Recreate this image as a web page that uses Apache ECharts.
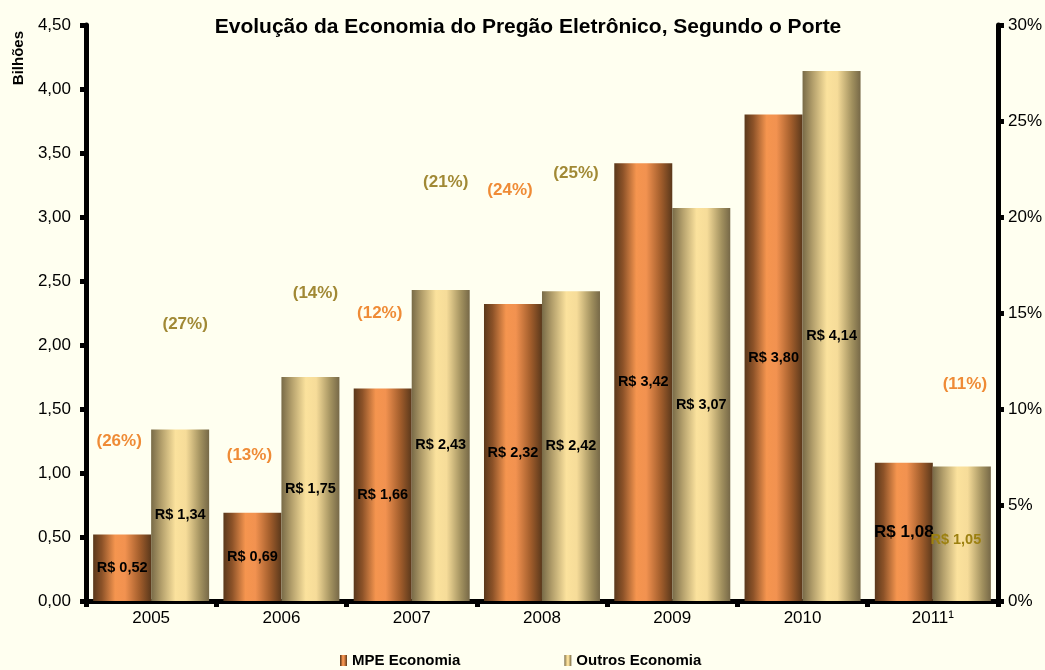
<!DOCTYPE html>
<html>
<head>
<meta charset="utf-8">
<script src="https://cdn.jsdelivr.net/npm/echarts@6/dist/echarts.min.js"></script>
<style>
  html, body { margin: 0; padding: 0; background: #fffff0; }
  #chart { width: 1045px; height: 670px; }
</style>
</head>
<body>
<div id="chart"></div>
<script>
// data
const years = ["2005", "2006", "2007", "2008", "2009", "2010", "2011\u00b9"];
const mpeValues = [0.52, 0.69, 1.66, 2.32, 3.42, 3.80, 1.08];
const outrosValues = [1.34, 1.75, 2.43, 2.42, 3.07, 4.14, 1.05];
// percentage notes (null = none shown)
const mpePct = [26, 13, 12, 24, null, null, 11];
const outrosPct = [27, 14, 21, 25, null, null, null];
// height where each note sits, in right-axis units
const mpePctAt = [8.3, 7.6, 15.0, 21.4, null, null, 11.3];
const outrosPctAt = [14.4, 16.0, 21.8, 22.3, null, null, null];

const leftTicks = [0, 4.5, 0.5];
const rightTicks = [0, 30, 5];

const chart = echarts.init(document.getElementById("chart"));

const mpeColor = new echarts.graphic.LinearGradient(0, 0, 1, 0, [
  { offset: 0, color: "#5a381b" },
  { offset: 0.15, color: "#8c5228" },
  { offset: 0.38, color: "#f5954f" },
  { offset: 0.55, color: "#f29250" },
  { offset: 0.8, color: "#a35e2c" },
  { offset: 1, color: "#5a381b" },
]);
const outrosColor = new echarts.graphic.LinearGradient(0, 0, 1, 0, [
  { offset: 0, color: "#786a47" },
  { offset: 0.18, color: "#b4a06c" },
  { offset: 0.42, color: "#fbe29d" },
  { offset: 0.6, color: "#f6dc99" },
  { offset: 0.85, color: "#a2915f" },
  { offset: 1, color: "#766847" },
]);

const fmtMoney = (v) => "R$ " + v.toFixed(2).replace(".", ",");

function pctData(pcts, pos) {
  return pcts.map((p, i) => (p == null ? [i, null, null] : [i, pos[i], p]));
}

const mpeBarData = mpeValues.map((v, i) => {
  if (i === 6) return { value: v, label: { fontSize: 17 } };
  return v;
});
const outrosBarData = outrosValues.map((v, i) => {
  if (i === 6) return { value: v, label: { color: "#9c8010", offset: [-6, 6] } };
  return v;
});

const pctLabel = (color, dx) => ({
  show: true,
  position: "inside",
  offset: [dx, 0],
  color: color,
  fontSize: 17,
  fontWeight: "bold",
  formatter: (p) => (p.value[2] == null ? "" : "(" + p.value[2] + "%)"),
});

const mpePctData = pctData(mpePct, mpePctAt).map((d, i) =>
  i === 6 ? { value: d, label: { offset: [32, 0] } } : d
);

const barLabel = {
  show: true,
  position: "inside",
  color: "#000",
  fontSize: 14.5,
  fontWeight: "bold",
  formatter: (p) => fmtMoney(p.value),
};

const option = {
  backgroundColor: "#fffff0",
  animation: false,
  textStyle: { fontFamily: "Liberation Sans, Arial, sans-serif" },
  title: {
    text: "Evolução da Economia do Pregão Eletrônico, Segundo o Porte",
    left: 523,
    top: 12,
    textAlign: "center",
    textStyle: { fontSize: 21, fontWeight: "bold", color: "#000", letterSpacing: -0.6 },
  },
  legend: {
    bottom: -3,
    left: 335,
    itemWidth: 7,
    itemHeight: 11,
    itemGap: 104,
    itemStyle: { borderWidth: 0 },
    icon: "rect",
    textStyle: { fontSize: 15, fontWeight: "bold", color: "#000", letterSpacing: 0.4 },
    data: ["MPE Economia", "Outros Economia"],
  },
  graphic: [
    {
      type: "text",
      left: 11,
      top: 31,
      rotation: Math.PI / 2,
      style: { text: "Bilhões", font: "bold 15px Liberation Sans, Arial", fill: "#000" },
    },
  ],
  grid: { left: 86, right: 43, top: 25, bottom: 69 },
  xAxis: {
    type: "category",
    data: years,
    axisLine: { lineStyle: { color: "#000", width: 5 } },
    axisTick: { show: true, alignWithLabel: false, length: 6, lineStyle: { color: "#000", width: 5 } },
    axisLabel: { color: "#000", fontSize: 17, margin: 9 },
  },
  yAxis: [
    {
      type: "value",
      min: leftTicks[0],
      max: leftTicks[1],
      interval: leftTicks[2],
      axisLine: { show: true, lineStyle: { color: "#000", width: 5 } },
      axisTick: { show: true, length: 6, lineStyle: { color: "#000", width: 5 } },
      axisLabel: {
        color: "#000",
        fontSize: 17,
        margin: 15,
        formatter: (v) => v.toFixed(2).replace(".", ","),
      },
      splitLine: { show: false },
    },
    {
      type: "value",
      min: rightTicks[0],
      max: rightTicks[1],
      interval: rightTicks[2],
      position: "right",
      axisLine: { show: true, lineStyle: { color: "#000", width: 5 } },
      axisTick: { show: true, length: 6, lineStyle: { color: "#000", width: 5 } },
      axisLabel: { color: "#000", fontSize: 17, margin: 10, formatter: "{value}%" },
      splitLine: { show: false },
    },
  ],
  series: [
    {
      name: "MPE Economia",
      type: "bar",
      barWidth: 58,
      barGap: "0%",
      itemStyle: { color: mpeColor },
      label: barLabel,
      data: mpeBarData,
    },
    {
      name: "Outros Economia",
      type: "bar",
      barWidth: 58,
      barGap: "0%",
      itemStyle: { color: outrosColor },
      label: barLabel,
      data: outrosBarData,
    },
    {
      type: "scatter",
      yAxisIndex: 1,
      symbolSize: 1,
      itemStyle: { color: "rgba(0,0,0,0)" },
      label: pctLabel("#eb6e08", -32),
      data: mpePctData,
    },
    {
      type: "scatter",
      yAxisIndex: 1,
      symbolSize: 1,
      itemStyle: { color: "rgba(0,0,0,0)" },
      label: pctLabel("#8a6c06", 34),
      data: pctData(outrosPct, outrosPctAt),
    },
  ],
};

chart.setOption(option);
</script>
</body>
</html>
